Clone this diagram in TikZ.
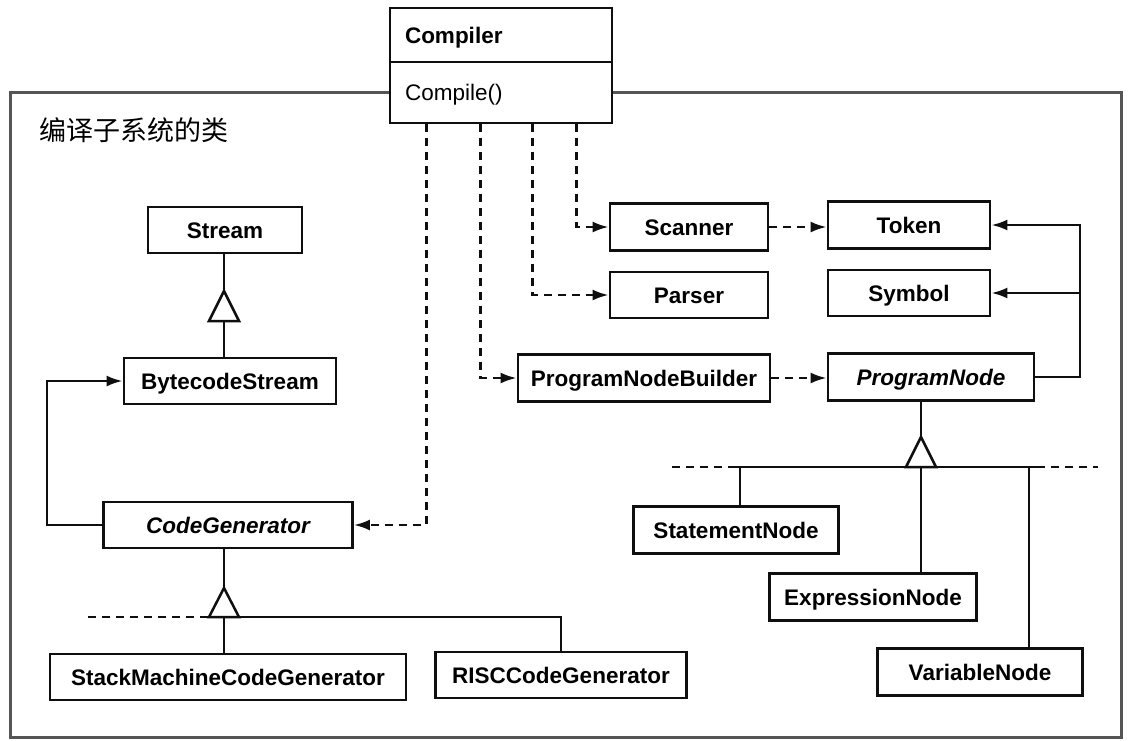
\documentclass[tikz,border=0pt]{standalone}
\usepackage{fontspec}
\setmainfont{Liberation Sans}
\newfontfamily\cjk{Noto Sans CJK SC}
\usepackage{tikz}
\usetikzlibrary{arrows.meta}
\definecolor{figline}{RGB}{15,15,15}
\definecolor{figframe}{RGB}{85,85,85}
\tikzset{
  cls/.style    ={draw=figline, line width=2.8pt, fill=white, inner sep=0pt,
                  text height=18pt, text depth=2pt,
                  minimum height=46pt, font=\fontsize{22.5}{26}\selectfont\bfseries},
  abst/.style   ={cls, font=\fontsize{22.5}{26}\selectfont\bfseries\itshape},
  opbox/.style  ={cls, font=\fontsize{22.5}{26}\selectfont},
  line/.style   ={draw=figline, line width=2.5pt},
  dep/.style    ={line, dash pattern=on 8pt off 6pt, -{Latex[length=16pt,width=11pt]}},
  assoc/.style  ={line, -{Latex[length=16pt,width=11pt]}},
  gen/.style    ={line, fill=white, line join=miter},
  stub/.style   ={line, dash pattern=on 8pt off 6pt},
  frame/.style  ={draw=figframe, line width=3pt},
}
\begin{document}
\begin{tikzpicture}[x=1pt,y=-1pt]
  \useasboundingbox (0,0) rectangle (1132,740);
  % subsystem frame
  \draw[frame] (10,92) rectangle (1121,737);
  \node[anchor=west, inner sep=0pt, font=\cjk\fontsize{27}{30}\selectfont] (title) at (39,130) {编译子系统的类};
  % facade
  \node[cls, minimum width=222pt, minimum height=54pt, text width=192pt, align=left, inner xsep=15pt] (compiler) at (501,35) {Compiler};
  \node[opbox, minimum width=222pt, minimum height=61pt, text width=192pt, align=left, inner xsep=15pt] (compileop) at (501,92.5) {Compile()};
  % classes
  \node[cls, minimum width=154pt] (stream) at (225,230) {Stream};
  \node[cls, minimum width=212pt] (bcstream) at (230,381) {BytecodeStream};
  \node[abst, minimum width=249pt] (codegen) at (228,525) {CodeGenerator};
  \node[cls, minimum width=356pt] (stackgen) at (228,677) {StackMachineCodeGenerator};
  \node[cls, minimum width=251pt] (riscgen) at (561,675) {RISCCodeGenerator};
  \node[cls, minimum width=158pt, minimum height=47pt] (scanner) at (689,227) {Scanner};
  \node[cls, minimum width=158pt] (parser) at (689,295) {Parser};
  \node[cls, minimum width=162pt, minimum height=47pt] (token) at (909,225) {Token};
  \node[cls, minimum width=162pt] (symbol) at (909,293) {Symbol};
  \node[cls, minimum width=252pt, minimum height=47pt] (pnb) at (644,378) {ProgramNodeBuilder};
  \node[abst, minimum width=206pt, minimum height=47pt] (prognode) at (931,377) {ProgramNode};
  \node[cls, minimum width=205pt, minimum height=47pt] (stmtnode) at (736,530) {StatementNode};
  \node[cls, minimum width=207pt, minimum height=47pt] (exprnode) at (873,597) {ExpressionNode};
  \node[cls, minimum width=205pt, minimum height=47pt] (varnode) at (980,672) {VariableNode};
  % compiler uses
  \draw[dep] ([xshift=188pt]compileop.south west) |- (scanner);
  \draw[dep] ([xshift=144pt]compileop.south west) |- (parser);
  \draw[dep] ([xshift=92pt]compileop.south west) |- (pnb);
  \draw[dep] ([xshift=38pt]compileop.south west) |- (codegen);
  \draw[dep] (scanner.east) -- (scanner.east -| token.west);
  \draw[dep] (pnb.east) -- (pnb.east -| prognode.west);
  % associations
  \coordinate (pnjoin) at (1080,377);
  \draw[assoc] (prognode.east) -- (pnjoin) |- (token.east);
  \draw[assoc] (pnjoin) |- (symbol.east);
  \draw[assoc] (codegen.west) -- ++(-55,0) |- (bcstream.west);
  % Stream hierarchy
  \coordinate (stbar) at (224,321);
  \coordinate (stapex) at (224,291);
  \draw[line] (stapex) -- (stapex |- stream.south);
  \draw[line] (stbar) -- (stbar |- bcstream.north);
  \draw[gen] (stapex) -- ([xshift=-15pt]stbar) -- ([xshift=15pt]stbar) -- cycle;
  % CodeGenerator hierarchy
  \coordinate (cgbar) at (224,617);
  \coordinate (cgapex) at (224,588);
  \coordinate (cgstub) at (88,617);
  \draw[line] (cgapex) -- (cgapex |- codegen.south);
  \draw[stub] (cgstub) -- (205,617);
  \draw[line] (205,617) -| (riscgen.north);
  \draw[line] (cgbar) -- (cgbar |- stackgen.north);
  \draw[gen] (cgapex) -- ([xshift=-15pt]cgbar) -- ([xshift=15pt]cgbar) -- cycle;
  % ProgramNode hierarchy
  \coordinate (pnbar) at (921,467);
  \coordinate (pnapex) at (921,437);
  \coordinate (pnleft) at (740,467);
  \coordinate (pnright) at (1029,467);
  \draw[line] (pnapex) -- (pnapex |- prognode.south);
  \draw[stub] (672,467) -- (735,467);
  \draw[stub] (1037,467) -- (1098,467);
  \draw[line] (735,467) -- (1037,467);
  \draw[line] (pnleft) -- (pnleft |- stmtnode.north);
  \draw[line] (pnbar) -- (pnbar |- exprnode.north);
  \draw[line] (pnright) -- (pnright |- varnode.north);
  \draw[gen] (pnapex) -- ([xshift=-15pt]pnbar) -- ([xshift=15pt]pnbar) -- cycle;
\end{tikzpicture}
\end{document}
